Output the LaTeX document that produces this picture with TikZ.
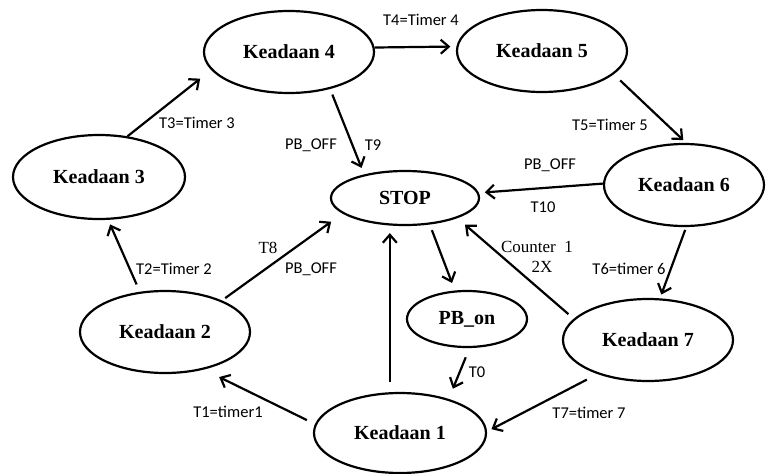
\documentclass[tikz,border=0pt]{standalone}
\usepackage{fontspec}
\setmainfont{Liberation Serif}
\newfontfamily\lblfont{Carlito}
\usetikzlibrary{shapes.geometric,arrows.meta}

\begin{document}
\begin{tikzpicture}[x=1pt,y=-1pt,
  state/.style={ellipse,draw,line width=2.2pt,inner sep=0pt,font=\fontsize{20}{20}\selectfont\bfseries},
  lbl/.style={font=\lblfont\fontsize{16.5}{16.5}\selectfont},
  tlbl/.style={font=\fontsize{17}{17}\selectfont},
  conn/.style={line width=2.2pt,-{Straight Barb[length=8pt,width=14pt]}}]
\useasboundingbox (0,0) rectangle (766,474);
\node[state,minimum width=172pt,minimum height=80pt] (k1) at (400,433) {Keadaan 1};
\node[state,minimum width=170pt,minimum height=82pt] (k2) at (165,332) {Keadaan 2};
\node[state,minimum width=172pt,minimum height=84pt] (k3) at (99,177) {Keadaan 3};
\node[state,minimum width=170pt,minimum height=82pt] (k4) at (289,52) {Keadaan 4};
\node[state,minimum width=170pt,minimum height=82pt] (k5) at (542,51) {Keadaan 5};
\node[state,minimum width=160pt,minimum height=82pt] (k6) at (684,185) {Keadaan 6};
\node[state,minimum width=170pt,minimum height=82pt] (k7) at (648,340) {Keadaan 7};
\node[state,minimum width=148pt,minimum height=54pt] (stop) at (405,198) {STOP};
\node[state,minimum width=120pt,minimum height=56pt] (pb) at (467,319) {PB\_on};
\draw[conn,shorten >=14pt] (k3.55) -- (k4.193);
\draw[conn,shorten >=6pt] (k4.3) -- (k5.177);
\draw[conn,shorten <=9pt,shorten >=4pt] (k5.342) -- (k6.87);
\draw[conn,shorten >=6pt] (k6.179) -- (stop.4);
\draw[conn,shorten <=6pt,shorten >=7pt] (k4.318) -- (stop.150);
\draw[conn,shorten <=4pt,shorten >=14pt] (k2.29) -- (stop.194);
\draw[conn,shorten <=8pt,shorten >=5pt] (k2.122) -- (k3.282);
\draw[conn,shorten <=9pt,shorten >=17pt] (k1.174) -- (k2.316);
\draw[conn,shorten <=10pt,shorten >=7pt] (k1.104) -- (k1.104 |- stop.south);
\draw[conn,shorten <=6pt,shorten >=8pt] (stop.313) -- (pb.113);
\draw[conn,shorten <=10pt,shorten >=11pt] (pb.275) -- (k1.35);
\draw[conn,shorten <=7pt,shorten >=10pt] (k7.164) -- (stop.339);
\draw[conn,shorten <=3pt,shorten >=4pt] (k6.273) -- (k7.74);
\draw[conn,shorten <=12pt,shorten >=5pt] (k7.214) -- (k1.1);
\node[lbl] (t4) at (421,20) {T4=Timer 4};
\node[lbl] (t3) at (197,123) {T3=Timer 3};
\node[lbl] (pboff9) at (311,145) {PB\_OFF};
\node[lbl] (t9) at (373,145) {T9};
\node[lbl] (t5) at (610,125) {T5=Timer 5};
\node[lbl] (pboff10) at (550,165) {PB\_OFF};
\node[lbl] (t10) at (543,207) {T10};
\node[lbl] (t2) at (174,269) {T2=Timer 2};
\node[tlbl] (t8) at (268,248) {T8};
\node[lbl] (pboff8) at (311,269) {PB\_OFF};
\node[lbl] (t1) at (228,412) {T1=timer1};
\node[tlbl] (cnt) at (537,247) {Counter\enspace 1};
\node[tlbl] (twox) at (542,267) {2X};
\node[lbl] (t6) at (629,269) {T6=timer 6};
\node[lbl] (t0) at (477,372) {T0};
\node[lbl] (t7) at (589,413) {T7=timer 7};
\end{tikzpicture}
\end{document}
